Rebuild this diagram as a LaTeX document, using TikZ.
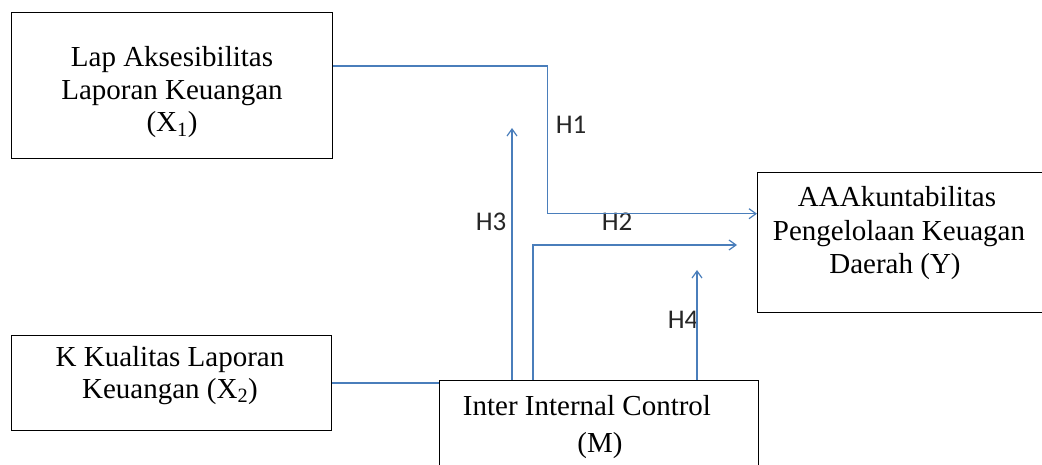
\documentclass[tikz,border=0pt]{standalone}
\usepackage{fontspec}
\setmainfont{Liberation Serif}
\newfontfamily\labfont{Carlito}
\usetikzlibrary{arrows.meta}
\definecolor{linkblue}{HTML}{4A7EBB}
\tikzset{
  box/.style={draw=black, line width=1.4pt, rectangle, anchor=north west, inner sep=0pt},
  boxtext/.style={font=\fontsize{29}{33}\selectfont, anchor=base, inner sep=0pt},
  hlab/.style={font=\labfont\fontsize{27}{30}\selectfont, text=black!85, inner sep=0pt},
  conn/.style={draw=linkblue, line width=1.3pt},
  arr/.style={conn, -{Straight Barb[length=7pt,width=10pt,line width=1.2pt]}}
}
\begin{document}
\begin{tikzpicture}[x=1pt,y=-1pt]
\useasboundingbox (0,0) rectangle (1042,465);
\begin{scope}
\clip (0,0) rectangle (1042,465);
% boxes
\node[box, minimum width=321pt, minimum height=146pt] (x1) at (11,12) {};
\node[box, minimum width=320pt, minimum height=95pt] (x2) at (11,335) {};
\node[box, minimum width=319pt, minimum height=110pt] (m) at (439,380) {};
\node[box, minimum width=300pt, minimum height=140pt] (y) at (757,172) {};
\end{scope}
% texts
\node[boxtext] (x1a) at (172,67) {Lap Aksesibilitas};
\node[boxtext] (x1b) at (172,100) {Laporan Keuangan};
\node[boxtext] (x1c) at (172,132) {(X\textsubscript{1})};
\node[boxtext] (x2a) at (170,366) {K Kualitas Laporan};
\node[boxtext] (x2b) at (170,398) {Keuangan (X\textsubscript{2})};
\node[boxtext] (ma) at (587,415) {Inter Internal Control};
\node[boxtext] (mb) at (600,452) {(M)};
\node[boxtext] (ya) at (897,207) {AAAkuntabilitas};
\node[boxtext] (yb) at (899,241) {Pengelolaan Keuagan};
\node[boxtext] (yc) at (895,274) {Daerah (Y)};
% labels
\node[hlab] (h1) at (571,125) {H1};
\node[hlab] (h2) at (617,222) {H2};
\node[hlab] (h3) at (491,222) {H3};
\node[hlab] (h4) at (683,320) {H4};
% free ends
\coordinate (h2end) at (737,245);
\coordinate (h3end) at (512,128);
\coordinate (h4end) at (697,270);
% connectors
\draw[arr] ([yshift=-54pt]x1.north east) -- ++(214,0) |- ([yshift=29pt]y.west);
\draw[arr] (m.north -| h3end) -- (h3end);
\draw[arr] ([xshift=94pt]m.north west) |- (h2end);
\draw[arr] (m.north -| h4end) -- (h4end);
\draw[conn] ([yshift=-48pt]x2.north east) -- ([yshift=-48pt]x2.north east -| m.west);
\end{tikzpicture}
\end{document}
